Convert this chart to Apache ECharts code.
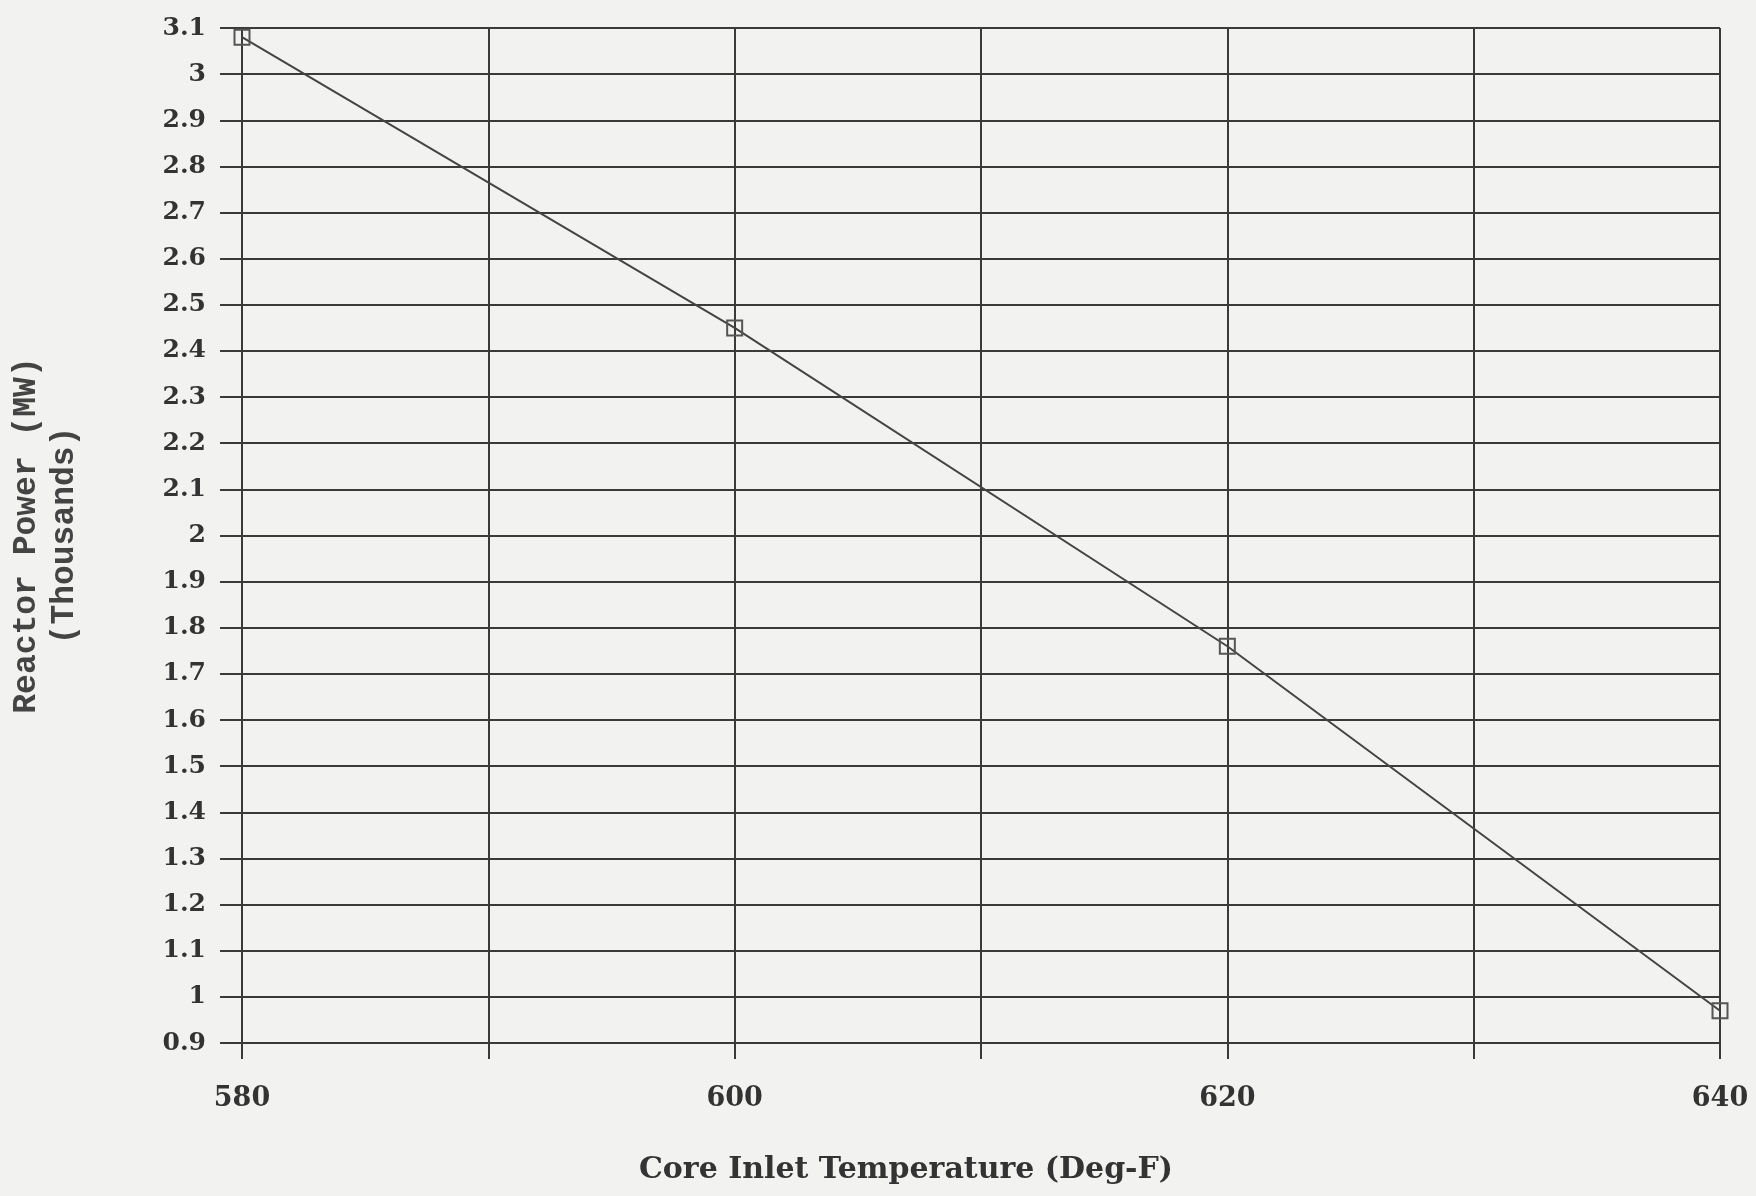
<!DOCTYPE html>
<html><head><meta charset="utf-8">
<script src="https://cdn.jsdelivr.net/npm/echarts@6/dist/echarts.min.js"></script>
<style>html,body{margin:0;padding:0;background:#f2f2f0}#c{width:1756px;height:1196px}</style>
</head><body><div id="c"></div>
<script>
const temperatures = [580, 600, 620, 640];
const reactorPower = [3.08, 2.45, 1.76, 0.97];
const xLabeled = [580, 600, 620, 640];

const ink = '#3a3a3a';
const chart = echarts.init(document.getElementById('c'));
chart.setOption({
  backgroundColor: '#f2f2f0',
  animation: false,
  grid: {left: 238, right: 36, top: 28, bottom: 153},
  xAxis: {
    type: 'value', min: 580, max: 640, interval: 10,
    name: 'Core Inlet Temperature (Deg-F)', nameLocation: 'middle', nameGap: 112,
    nameTextStyle: {fontFamily: 'DejaVu Serif', fontWeight: 'bold', fontSize: 30, color: '#333', padding: [0, 150, 0, 0]},
    axisLine: {show: true, lineStyle: {color: ink, width: 2}},
    axisTick: {show: true, length: 16, lineStyle: {color: ink, width: 2}},
    splitLine: {show: true, lineStyle: {color: ink, width: 2}},
    axisLabel: {margin: 42, fontFamily: 'DejaVu Serif', fontWeight: 'bold', fontSize: 27, color: '#333',
      formatter: v => xLabeled.includes(Math.round(v)) ? String(Math.round(v)) : ''}
  },
  yAxis: {
    type: 'value', min: 0.9, max: 3.1, interval: 0.1,
    name: 'Reactor Power (MW)\n(Thousands)', nameLocation: 'middle', nameGap: 158,
    nameTextStyle: {fontFamily: 'Liberation Mono', fontWeight: 'bold', fontSize: 33, color: '#444', lineHeight: 38},
    axisLine: {show: true, lineStyle: {color: ink, width: 2}},
    axisTick: {show: true, length: 22, lineStyle: {color: ink, width: 2}},
    splitLine: {show: true, lineStyle: {color: ink, width: 2}},
    axisLabel: {margin: 36, fontFamily: 'DejaVu Serif', fontWeight: 'bold', fontSize: 25, color: '#333',
      formatter: v => String(Math.round(v * 10) / 10)}
  },
  series: [{
    type: 'line',
    data: temperatures.map((t, i) => [t, reactorPower[i]]),
    symbol: 'rect', symbolSize: 15, showAllSymbol: true,
    lineStyle: {color: '#444', width: 2},
    itemStyle: {color: 'rgba(0,0,0,0)', borderColor: '#555', borderWidth: 2}
  }]
});
</script></body></html>
